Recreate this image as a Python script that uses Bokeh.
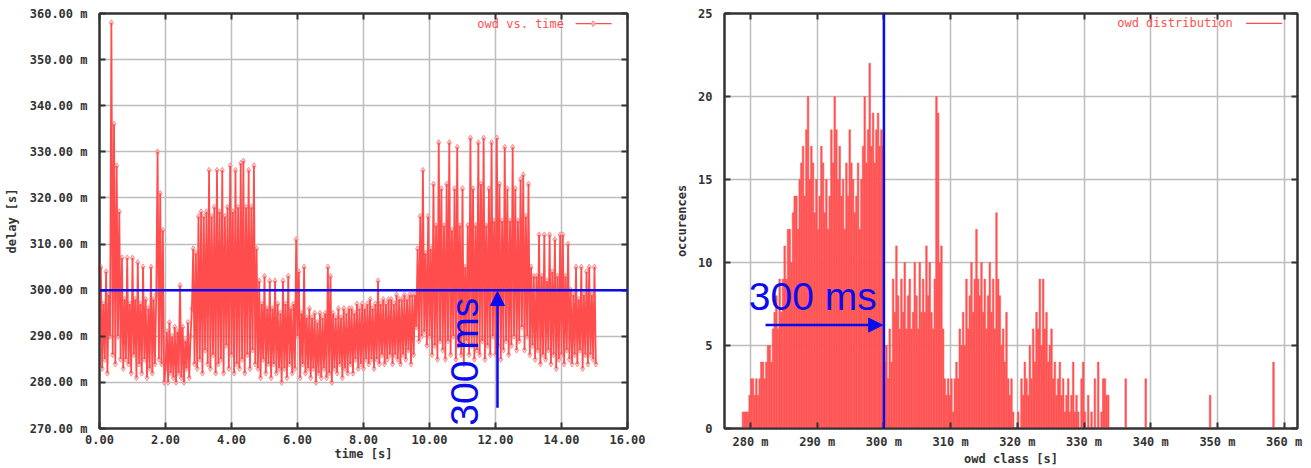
import numpy as np
from bokeh.plotting import figure
from bokeh.layouts import row
from bokeh.models import (Span, Arrow, NormalHead, Label, SingleIntervalTicker,
                          PrintfTickFormatter, Range1d, LinearAxis, CustomJSTickFormatter)
from bokeh.embed import file_html
from bokeh.resources import INLINE

# ---------------- data ----------------
sample_interval_s = 0.04
delay_ms = [
    288, 305, 283, 297, 285, 304, 282, 299, 290, 358,
    286, 336, 284, 327, 290, 317, 285, 307, 283, 298,
    285, 307, 284, 297, 282, 307, 286, 298, 281, 306,
    284, 297, 282, 305, 285, 298, 281, 296, 283, 305,
    282, 298, 284, 299, 330, 285, 321, 284, 313, 280,
    283, 291, 280, 293, 282, 290, 281, 292, 280, 291,
    282, 301, 281, 292, 280, 289, 283, 293, 281, 290,
    296, 309, 284, 308, 283, 316, 285, 317, 282, 316,
    287, 317, 284, 326, 283, 316, 286, 318, 282, 326,
    284, 317, 285, 326, 282, 316, 288, 318, 283, 327,
    286, 317, 282, 326, 284, 318, 283, 327.5, 285, 328,
    282, 318, 286, 326, 283, 318, 287, 327, 284, 309,
    283, 302, 281, 297, 285, 303, 282, 296, 284, 302,
    281, 296, 284, 302, 282, 297, 283, 295, 280, 302,
    283, 297, 281, 303, 284, 296, 282, 297, 283, 311,
    290, 304, 281, 295, 284, 305, 282, 294, 283, 296,
    281, 294, 283, 295, 280, 293, 282, 295, 281, 294,
    283, 295, 281, 305, 282, 303, 280, 295, 283, 294,
    282, 296, 284, 294, 281, 296, 283, 295, 282, 296,
    284, 296, 282, 295, 285, 297, 283, 296, 284, 297,
    283, 296, 285, 297, 284, 298, 285, 296, 283, 297,
    285, 302, 284, 297, 286, 298, 284, 297, 285, 298,
    286, 298, 284, 297, 286, 299, 285, 298, 284, 298,
    286, 299, 285, 298, 287, 299, 284, 299, 286, 299,
    292, 309, 289, 316, 290, 326, 291, 308, 288, 316,
    290, 309, 286, 323, 288, 314, 285, 332, 289, 322,
    287, 314, 285, 323, 289, 332, 286, 313, 290, 322,
    285, 331, 288, 314, 286, 322, 284, 305, 289, 314,
    286, 333, 288, 322, 285, 314, 287, 332, 286, 323,
    289, 333, 285, 314, 288, 322, 286, 332, 290, 315,
    286, 333, 288, 323, 285, 315, 287, 331, 289, 322,
    286, 315, 288, 331, 290, 322, 287, 315, 289, 324,
    292, 325, 287, 316, 290, 323, 286, 305, 288, 303,
    285, 303, 287, 312, 284, 303, 286, 312, 285, 302,
    287, 312, 284, 304, 286, 311, 283, 303, 285, 312,
    286, 312, 284, 303, 287, 310, 285, 300, 284, 299,
    286, 305, 284, 298, 287, 305, 283, 299, 286, 304,
    284, 305, 286, 299, 285, 305, 284,
]
time_s = [round(i * sample_interval_s, 2) for i in range(len(delay_ms))]

hist_first_class_ms = 278.75
hist_class_width_ms = 0.25
hist_counts = [
    1, 1, 1, 1,   2, 3, 3, 2,   3, 2, 3, 4,   4, 3, 4, 5,
    5, 4, 6, 7,   8, 6, 9, 7,   9, 11, 9, 12, 12, 10, 13, 14,
    14, 12, 15, 16, 17, 14, 18, 20, 15, 17, 16, 13, 15, 12, 14, 17,
    16, 13, 15, 12, 14, 18, 16, 20, 18, 15, 17, 14, 15, 12, 16, 14,
    18, 16, 15, 13, 14, 16, 12, 15, 17, 20, 16, 18, 22, 17, 19, 16,
    18, 19, 17, 18, 17, 4, 5, 3,  6, 4, 9, 7,   11, 8, 6, 9,
    7, 10, 6, 8,  9, 6, 7, 10,  8, 6, 10, 7,  9, 7, 11, 8,
    10, 7, 6, 9,  20, 19, 10, 11, 6, 3, 2, 3,  2, 3, 1, 3,
    4, 3, 6, 5,   7, 5, 9, 6,   8, 10, 7, 9,  12, 9, 8, 10,
    7, 9, 6, 8,   10, 7, 9, 6,  13, 9, 8, 5,  6, 4, 7, 3,
    2, 3, 1, 0,   0, 1, 0, 3,   2, 4, 3, 2,   5, 3, 6, 4,
    7, 6, 9, 5,   9, 6, 7, 4,   5, 6, 3, 4,   2, 3, 4, 2,
    3, 1, 2, 3,   1, 2, 4, 1,   2, 1, 0, 3,   4, 1, 0, 2,
    0, 1, 0, 3,   0, 4, 0, 1,   3, 3, 2, 2,
]
hist_class_ms = [hist_first_class_ms + hist_class_width_ms * (i + 0.5)
                 for i in range(len(hist_counts))]
outlier_class_ms = [336.25, 339.25, 348.9, 358.4]
outlier_counts = [3, 3, 2, 4]

threshold_ms = 300

# ---------------- style ----------------
FONT = "DejaVu Sans Mono"
RED = "#ff4d4d"
BAR = "#ff5454"
BLUE = "#0b0bf0"
AXC = "#333333"
KEYC = "#ff5050"


def style(p, ylab_standoff):
    p.outline_line_color = AXC
    p.outline_line_width = 2
    p.background_fill_color = "white"
    p.border_fill_color = "white"
    for ax in (p.xaxis[0], p.yaxis[0]):
        ax.major_tick_in = 6
        ax.major_tick_out = 0
        ax.minor_tick_line_color = None
        ax.major_tick_line_color = AXC
        ax.major_tick_line_width = 2
        ax.axis_line_color = AXC
        ax.axis_line_width = 2
        ax.major_label_text_font = FONT
        ax.major_label_text_font_size = "12px"
        ax.major_label_text_font_style = "bold"
        ax.major_label_text_color = AXC
        ax.axis_label_text_font = FONT
        ax.axis_label_text_font_size = "12px"
        ax.axis_label_text_font_style = "bold"
        ax.axis_label_text_color = AXC
    p.xaxis[0].major_label_standoff = 2
    p.xaxis[0].axis_label_standoff = 0
    p.yaxis[0].major_label_standoff = 8
    p.yaxis[0].axis_label_standoff = ylab_standoff
    p.grid.grid_line_color = "#bdbdbd"
    p.grid.grid_line_width = 1.5


def mirror_ticks(p, xint, yint):
    # gnuplot-style mirrored inward ticks on the top and right borders
    for place, interval in (("above", xint), ("right", yint)):
        ax = LinearAxis(ticker=SingleIntervalTicker(interval=interval),
                        formatter=CustomJSTickFormatter(code="return ''"),
                        major_tick_in=6, major_tick_out=0, major_label_standoff=0,
                        minor_tick_line_color=None, major_tick_line_color=AXC,
                        major_tick_line_width=2, axis_line_color=AXC, axis_line_width=2)
        p.add_layout(ax, place)


# ---------------- left: owd vs time ----------------
p1 = figure(width=660, height=468, x_range=Range1d(0, 16), y_range=Range1d(270, 360),
            output_backend="svg", toolbar_location=None,
            min_border_left=99, min_border_right=33, min_border_top=13, min_border_bottom=30,
            x_axis_label="time [s]", y_axis_label="delay [s]")
style(p1, 8)
p1.xaxis.ticker = SingleIntervalTicker(interval=2)
p1.yaxis.ticker = SingleIntervalTicker(interval=10)
p1.xgrid.ticker = SingleIntervalTicker(interval=2)
p1.ygrid.ticker = SingleIntervalTicker(interval=10)
p1.xaxis.formatter = PrintfTickFormatter(format="%.2f")
p1.yaxis.formatter = PrintfTickFormatter(format="%.2f m")
mirror_ticks(p1, 2, 10)

p1.scatter(time_s, delay_ms, marker="diamond", size=6, line_color="#ff8f8f",
           fill_color="#ffb3b3", fill_alpha=0.6, line_width=1)
p1.line(time_s, delay_ms, line_color=RED, line_width=1.8)

p1.add_layout(Span(location=threshold_ms, dimension="width", line_color=BLUE, line_width=2.5))
arrow_time_s = 12.06
p1.add_layout(Arrow(end=NormalHead(size=14, fill_color=BLUE, line_color=BLUE),
                    x_start=arrow_time_s, y_start=274.5, x_end=arrow_time_s,
                    y_end=threshold_ms - 0.3, line_color=BLUE, line_width=2.5))
p1.add_layout(Label(x=11.06, y=270.6, text="300 ms", angle=np.pi / 2,
                    text_font="Liberation Sans", text_font_size="39px",
                    text_color=BLUE, text_align="left", text_baseline="middle"))

# key
p1.add_layout(Label(x=11.45, y=357.8, text="owd vs. time", text_font=FONT,
                    text_font_size="12px", text_color=KEYC, text_baseline="middle"))
p1.line([14.43, 15.52], [357.8, 357.8], line_color=RED, line_width=1.2)
p1.scatter([14.96], [357.8], marker="diamond", size=6, line_color="#ff8f8f",
           fill_color="#ffb3b3")

# ---------------- right: distribution ----------------
p2 = figure(width=651, height=468, x_range=Range1d(276.1, 362.0), y_range=Range1d(0, 25),
            output_backend="svg", toolbar_location=None,
            min_border_left=64, min_border_right=14, min_border_top=13, min_border_bottom=30,
            x_axis_label="owd class [s]", y_axis_label="occurences")
style(p2, 6)
p2.xaxis.ticker = SingleIntervalTicker(interval=10)
p2.yaxis.ticker = SingleIntervalTicker(interval=5)
p2.xgrid.ticker = SingleIntervalTicker(interval=10)
p2.ygrid.ticker = SingleIntervalTicker(interval=5)
p2.xaxis.formatter = PrintfTickFormatter(format="%d m")
p2.yaxis.formatter = PrintfTickFormatter(format="%d")
mirror_ticks(p2, 10, 5)

p2.vbar(x=hist_class_ms, top=hist_counts, width=hist_class_width_ms,
        fill_color=BAR, line_color=BAR, line_width=0.5)
p2.vbar(x=outlier_class_ms, top=outlier_counts, width=hist_class_width_ms,
        fill_color=BAR, line_color=BAR, line_width=0.5)

p2.add_layout(Span(location=threshold_ms, dimension="height", line_color=BLUE, line_width=2.5))
p2.add_layout(Arrow(end=NormalHead(size=14, fill_color=BLUE, line_color=BLUE),
                    x_start=282.25, y_start=6.23, x_end=threshold_ms - 0.2, y_end=6.23,
                    line_color=BLUE, line_width=2.5))
p2.add_layout(Label(x=279.75, y=7.98, text="300 ms", text_font="Liberation Sans",
                    text_font_size="39px", text_color=BLUE, text_align="left",
                    text_baseline="middle"))

p2.add_layout(Label(x=334.97, y=24.4, text="owd distribution", text_font=FONT,
                    text_font_size="12px", text_color=KEYC, text_baseline="middle"))
p2.line([354.3, 359.7], [24.4, 24.4], line_color=RED, line_width=1.2)

layout = row(p1, p2)
open("out.html", "w").write(file_html(layout, INLINE))
